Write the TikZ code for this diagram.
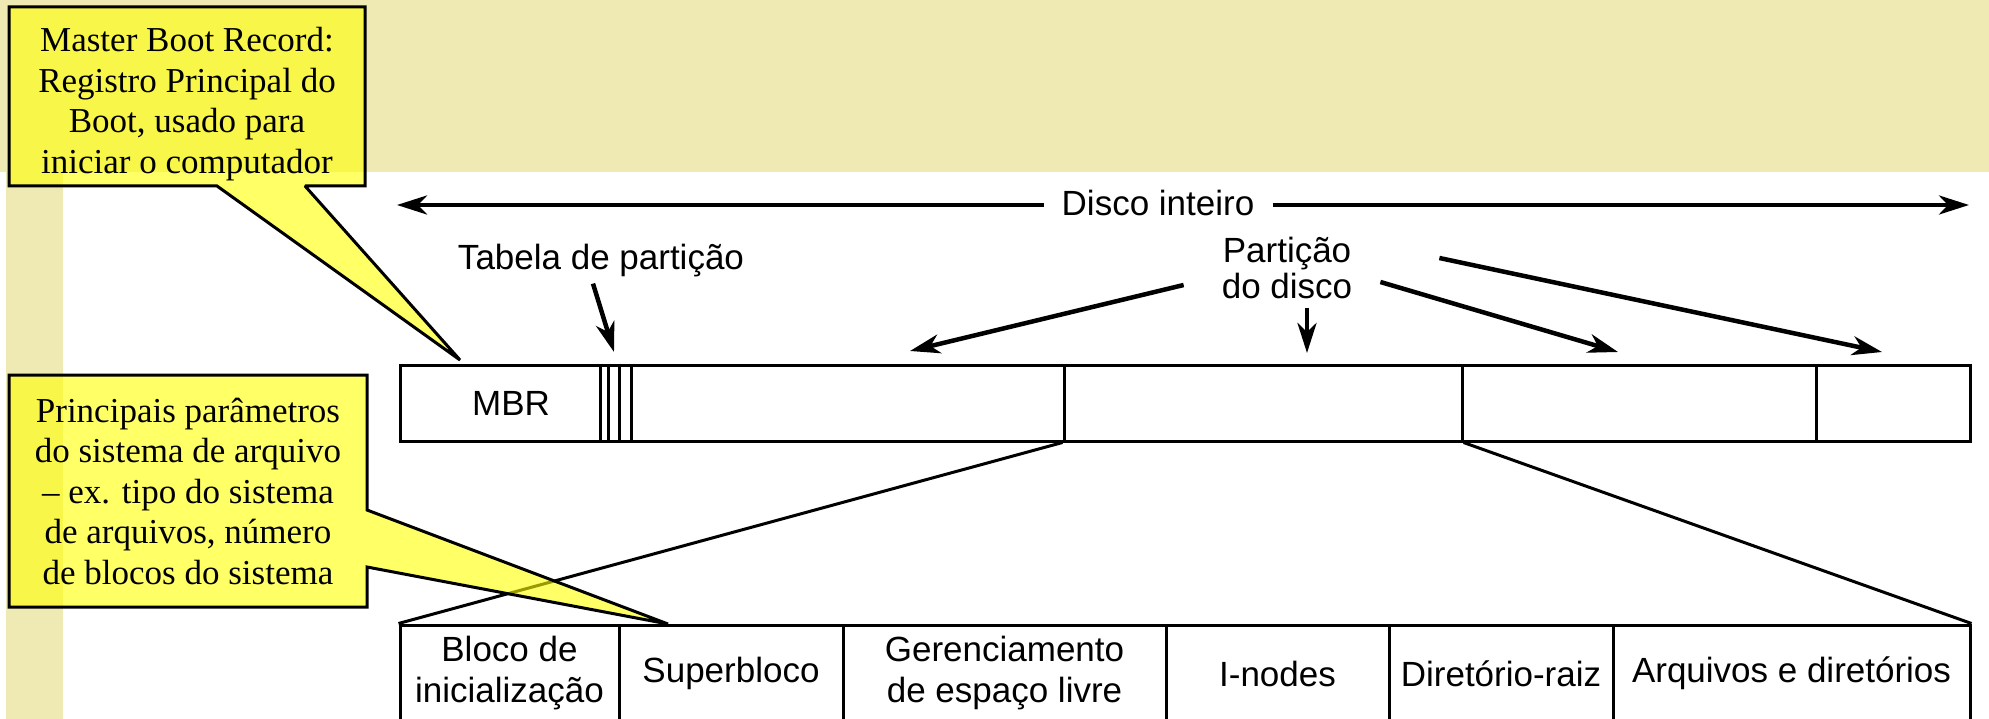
\documentclass[tikz,border=0pt]{standalone}
\usepackage{fontspec}
\setmainfont{Liberation Serif}
\newfontfamily\sansfam{Liberation Sans}
\usetikzlibrary{arrows.meta,calc}
\definecolor{beige}{RGB}{239,234,180}
\definecolor{noteyellow}{RGB}{255,255,0}
\begin{document}
\begin{tikzpicture}[x=1pt,y=-1pt,
  seg/.style={draw, line width=3pt, rectangle, inner sep=0pt, minimum height=76pt},
  fsbox/.style={draw, line width=3pt, rectangle, inner sep=0pt, minimum height=97pt,
    font=\sansfam\fontsize{35}{41}\selectfont, align=center},
  lbl/.style={font=\sansfam\fontsize{35}{36}\selectfont, inner sep=0pt},
  notetext/.style={font=\fontsize{35}{40.5}\selectfont, align=center, inner sep=0pt},
  note/.style={fill=noteyellow, fill opacity=0.6, draw=black, line width=3pt,
    line join=miter, miter limit=2},
  arr/.style={line width=4.5pt, -{Stealth[length=30pt,width=19pt,inset=9pt]}},
  link/.style={line width=3pt}
]
\useasboundingbox (0,0) rectangle (1989,719);
\clip (0,0) rectangle (1989,719);
% background
\fill[beige] (0,0) rectangle (1989,172);
\fill[beige] (6,172) rectangle (63,719);

% whole disk bar
\node[seg, minimum width=200pt] (mbr) at (500,403) {};
\node[lbl, anchor=base] (mbrtext) at (511,415) {MBR};
\node[seg, minimum width=31pt] (ptab) at (615.5,403) {};
\draw[line width=3pt] ([xshift=10.3pt]ptab.north west) -- ([xshift=10.3pt]ptab.south west);
\draw[line width=3pt] ([xshift=20.6pt]ptab.north west) -- ([xshift=20.6pt]ptab.south west);
\node[seg, minimum width=433pt] (p1) at (847.5,403) {};
\node[seg, minimum width=398pt] (p2) at (1263,403) {};
\node[seg, minimum width=354pt] (p3) at (1639,403) {};
\node[seg, minimum width=154pt] (p4) at (1893,403) {};

% file system layout
\node[fsbox, minimum width=219pt] (b1) at (509.5,673.5) {Bloco de\\inicialização};
\node[fsbox, minimum width=224pt] (b2) at (731,673.5) {Superbloco};
\node[fsbox, minimum width=323pt] (b3) at (1004.5,673.5) {Gerenciamento\\de espaço livre};
\node[fsbox, minimum width=223pt] (b4) at (1277.5,673.5) {I-nodes};
\node[fsbox, minimum width=224pt] (b5) at (1501,673.5) {Diretório-raiz};
\node[fsbox, minimum width=357pt] (b6) at (1791.5,673.5) {Arquivos e diretórios};

\draw[link] (p2.south west) -- (b1.north west);
\draw[link] (p2.south east) -- (b6.north east);

% labels and arrows
\coordinate (dl) at (397,205);
\coordinate (dr) at (1969,205);
\node[lbl, anchor=base, inner xsep=18pt] (disco) at (1158,216) {Disco inteiro};
\draw[arr] (disco.west |- dl) -- (dl);
\draw[arr] (disco.east |- dr) -- (dr);

\node[lbl, anchor=base] (tabela) at (601,270) {Tabela de partição};
\coordinate (tabtip) at (614,352);
\draw[arr] ($(tabela.south)+(-8,6)$) -- (tabtip);

\node[lbl, align=center] (part) at (1287,267.5) {Partição\\do disco};
\coordinate (tip1) at (910,351);
\coordinate (tip2) at (1307,353);
\coordinate (tip3) at (1618,352);
\coordinate (tip4) at (1882,352);
\draw[arr] ($(part.west)+(-38,17.5)$) -- (tip1);
\draw[arr] ($(part.south -| tip2)+(0,9)$) -- (tip2);
\draw[arr] ($(part.east)+(28,14.5)$) -- (tip3);
\draw[arr] ($(part.east)+(87,-9.5)$) -- (tip4);

% callouts
\coordinate (mbrtip) at (460,360);
\filldraw[note] (9,7) -- (365,7) -- (365,186) -- (305,186) -- (mbrtip) -- (217,186) -- (9,186) -- cycle;
\node[notetext] (note1) at (187,104) {Master Boot Record:\\Registro Principal do\\Boot, usado para\\iniciar o computador};

\coordinate (sbtip) at (668,624);
\filldraw[note] (9,375) -- (367,375) -- (367,510) -- (sbtip) -- (367,567) -- (367,607) -- (9,607) -- cycle;
\node[notetext] (note2) at (188,491) {Principais parâmetros\\do sistema de arquivo\\– ex. tipo do sistema\\de arquivos, número\\de blocos do sistema};
\end{tikzpicture}
\end{document}
